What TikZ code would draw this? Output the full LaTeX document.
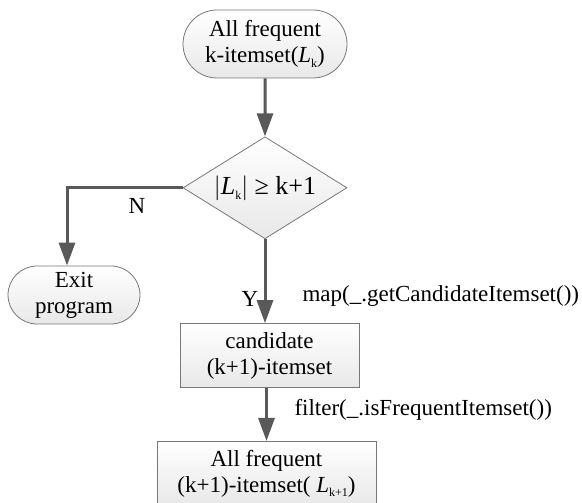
\documentclass[tikz,border=0pt]{standalone}
\usepackage{fontspec}
\setmainfont{Liberation Serif}
\usepackage{tikz}
\usetikzlibrary{arrows.meta,positioning,shapes.geometric,shapes.misc}
\definecolor{FlowLine}{RGB}{89,89,89}
\definecolor{FlowBorder}{RGB}{120,120,120}
\newcommand{\Lsub}[1]{\textit{L}\raisebox{-0.45ex}{\fontsize{12}{12}\selectfont #1}}

\begin{document}
\begin{tikzpicture}[
    font=\fontsize{23}{26}\selectfont,
    shade/.style={draw=FlowBorder, line width=0.8pt, top color=white, bottom color=gray!18},
    term/.style={shade, rounded rectangle, minimum width=164pt, minimum height=68pt, inner sep=0pt, align=center},
    decision/.style={shade, diamond, aspect=1.6, minimum width=164pt, minimum height=102pt, inner sep=0pt, align=center, font=\fontsize{26}{30}\selectfont},
    proc/.style={shade, rectangle, minimum width=179pt, minimum height=64pt, inner sep=0pt, align=center},
    arrow/.style={-{Triangle[length=23pt, width=16pt]}, draw=FlowLine, line width=3pt}
]
    \useasboundingbox (0,0) rectangle (582pt,503pt);

    \node[term] (start) at (265pt,459pt) {All frequent\\k-itemset(\Lsub{k})};
    \node[decision, below=58pt of start] (dec) {$|$\Lsub{k}$|$ ≥ k+1};
    \node[term, minimum width=132pt, minimum height=58pt] (exit) at (74pt,208pt) {Exit\\program};
    \node[proc, below=84pt of dec, xshift=4.5pt] (cand) {candidate\\(k+1)-itemset};
    \node[proc, minimum width=219pt, below=53pt of cand, xshift=-3pt] (final) {All frequent\\(k+1)-itemset( \Lsub{k+1})};

    \node (no) at (137pt,297pt) {N};
    \node (yes) at (250pt,204pt) {Y};
    \node[anchor=west] (map) at (299pt,207pt) {map(\_.getCandidateItemset())};
    \node[anchor=west] (filter) at (291pt,93pt) {filter(\_.isFrequentItemset())};

    \draw[arrow] (start) -- (dec);
    \draw[arrow] (dec.west) -| ([xshift=-7pt]exit.north);
    \draw[arrow] (dec.south) -- (dec.south |- cand.north);
    \draw[arrow] (final.north |- cand.south) -- (final.north);
\end{tikzpicture}
\end{document}
